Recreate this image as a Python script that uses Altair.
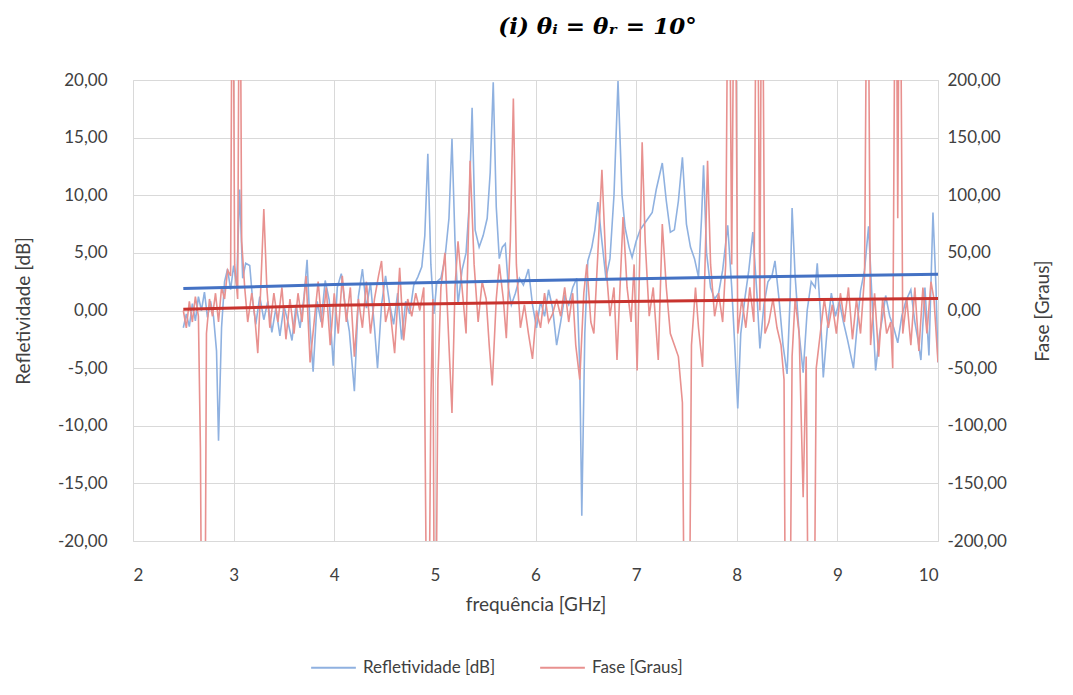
import altair as alt
import pandas as pd

# ---- data ----
refl_f = [2.50, 2.53, 2.56, 2.59, 2.62, 2.65, 2.68, 2.71, 2.74, 2.77, 2.80, 2.83, 2.85, 2.88, 2.91,
          2.94, 2.97, 3.00, 3.03, 3.06, 3.09, 3.12, 3.16, 3.19, 3.22, 3.26, 3.30, 3.34, 3.38, 3.42,
          3.46, 3.50, 3.54, 3.58, 3.62, 3.66, 3.70, 3.73, 3.76, 3.79, 3.83, 3.87, 3.91, 3.95, 3.99,
          4.03, 4.07, 4.11, 4.15, 4.20, 4.24, 4.28, 4.32, 4.36, 4.40, 4.43, 4.47, 4.51, 4.55, 4.59,
          4.63, 4.67, 4.71, 4.75, 4.79, 4.83, 4.87, 4.90, 4.93, 4.96, 4.99, 5.02, 5.06, 5.10, 5.14,
          5.17, 5.20, 5.23, 5.27, 5.31, 5.34, 5.37, 5.40, 5.44, 5.48, 5.52, 5.55, 5.58, 5.61, 5.64,
          5.67, 5.70, 5.73, 5.76, 5.80, 5.84, 5.88, 5.93, 5.97, 6.01, 6.05, 6.09, 6.13, 6.17, 6.21,
          6.25, 6.29, 6.33, 6.37, 6.41, 6.44, 6.46, 6.49, 6.52, 6.56, 6.59, 6.62, 6.66, 6.70, 6.74,
          6.78, 6.82, 6.86, 6.89, 6.93, 6.96, 7.00, 7.04, 7.08, 7.12, 7.16, 7.20, 7.26, 7.30, 7.34,
          7.38, 7.42, 7.46, 7.50, 7.54, 7.58, 7.62, 7.65, 7.67, 7.70, 7.74, 7.78, 7.82, 7.86, 7.91,
          7.95, 7.98, 8.01, 8.04, 8.08, 8.12, 8.16, 8.20, 8.23, 8.27, 8.31, 8.35, 8.38, 8.42, 8.46,
          8.50, 8.53, 8.55, 8.58, 8.62, 8.66, 8.70, 8.74, 8.78, 8.80, 8.83, 8.86, 8.90, 8.94, 8.98,
          9.02, 9.06, 9.10, 9.16, 9.20, 9.23, 9.27, 9.31, 9.35, 9.38, 9.42, 9.45, 9.48, 9.52, 9.56,
          9.60, 9.64, 9.68, 9.73, 9.77, 9.80, 9.83, 9.87, 9.91, 9.95, 9.98, 10.00]
refl_db = [-1.5, -0.3, -1.4, 0.6, -0.9, 1.2, 0.0, 1.6, -0.6, 0.8, -0.5, -3.5, -11.3, -1.5, 2.5,
           3.6, 1.8, 3.9, 2.2, 10.5, 2.8, 4.1, 3.9, 0.8, -1.2, 1.2, -0.8, 0.8, -1.9, 0.2,
           -2.2, 0.4, -1.0, -2.6, 0.5, -1.5, 1.2, 4.4, -1.5, -5.3, 0.8, -1.0, 2.6, 0.9, -4.8,
           2.0, 3.2, 0.3, -1.8, -7.0, 1.2, 3.6, 0.2, 2.4, -1.5, -5.0, 0.5, 3.0, 0.6, -1.2,
           1.5, -2.5, 0.8, -0.3, 2.2, 2.9, 3.8, 6.5, 13.6, 4.0, -0.3, 2.5, 2.8, 4.5, 8.0,
           14.9, 6.0, 0.5, 3.5, 5.0, 9.0, 17.6, 7.0, 5.5, 6.5, 8.0, 12.0, 19.8, 9.0, 4.5,
           5.5, 5.8, 2.0, 0.5, 1.5, 2.8, 2.2, 3.6, 0.5, -1.5, 0.8, -0.5, 1.8, 0.2, -3.0,
           -1.0, 1.2, 0.5, 2.0, 2.8, -5.0, -17.8, -2.0, 4.3, 5.5, 7.0, 9.4, 6.0, 2.8, 4.5,
           10.0, 19.9, 10.0, 7.2, 5.5, 4.6, 6.0, 7.0, 7.5, 8.0, 8.5, 10.5, 12.8, 9.5, 6.8,
           7.0, 9.5, 13.3, 7.5, 5.5, 4.5, 2.9, 8.0, 12.6, 5.0, 2.0, 1.0, 1.5, 3.5, 7.4,
           2.0, -3.0, -8.5, -2.0, 1.0, 3.5, 6.8, 1.5, -3.3, 0.5, 2.5, 3.0, 4.3, 1.0, -3.0,
           -5.5, 1.0, 8.9, 3.0, -2.0, -5.4, 0.0, 2.5, 2.0, 4.1, 0.0, -5.8, -1.5, 1.5, -0.5,
           0.8, -1.0, -2.5, -5.0, -1.0, 1.7, 3.5, 7.3, 0.0, -5.2, -2.0, -0.5, 1.3, -0.5, -1.5,
           -2.8, -0.5, 0.8, 1.8, -1.0, -2.5, -4.3, 2.0, -3.9, 8.5, 2.0, -4.5]

fase_f = [2.50, 2.53, 2.56, 2.59, 2.62, 2.65, 2.67, 2.69, 2.71, 2.73, 2.76, 2.79, 2.82, 2.85, 2.88,
          2.91, 2.94, 2.97, 2.99, 3.01, 3.04, 3.06, 3.08, 3.11, 3.14, 3.18, 3.21, 3.24, 3.27, 3.30,
          3.33, 3.36, 3.40, 3.44, 3.48, 3.52, 3.56, 3.60, 3.64, 3.68, 3.72, 3.76, 3.80, 3.84, 3.88,
          3.92, 3.96, 4.00, 4.04, 4.08, 4.12, 4.16, 4.20, 4.24, 4.28, 4.32, 4.36, 4.40, 4.44, 4.47,
          4.51, 4.55, 4.60, 4.65, 4.69, 4.73, 4.77, 4.81, 4.85, 4.89, 4.93, 4.96, 4.98, 5.00, 5.03,
          5.06, 5.10, 5.14, 5.17, 5.20, 5.23, 5.27, 5.31, 5.35, 5.39, 5.43, 5.47, 5.51, 5.54, 5.57,
          5.61, 5.64, 5.68, 5.71, 5.75, 5.78, 5.81, 5.85, 5.89, 5.93, 5.97, 6.01, 6.05, 6.09, 6.13,
          6.17, 6.21, 6.25, 6.29, 6.33, 6.37, 6.40, 6.44, 6.48, 6.51, 6.55, 6.58, 6.62, 6.66, 6.70,
          6.74, 6.78, 6.81, 6.84, 6.87, 6.91, 6.95, 6.98, 7.01, 7.04, 7.06, 7.09, 7.13, 7.17, 7.22,
          7.26, 7.30, 7.34, 7.38, 7.42, 7.46, 7.49, 7.52, 7.55, 7.59, 7.62, 7.66, 7.71, 7.74, 7.78,
          7.82, 7.86, 7.89, 7.92, 7.95, 7.98, 8.01, 8.05, 8.09, 8.13, 8.17, 8.20, 8.23, 8.25, 8.28,
          8.32, 8.36, 8.40, 8.44, 8.47, 8.49, 8.52, 8.55, 8.58, 8.62, 8.66, 8.69, 8.72, 8.76, 8.79,
          8.83, 8.87, 8.91, 8.95, 8.99, 9.03, 9.07, 9.11, 9.15, 9.19, 9.23, 9.27, 9.30, 9.33, 9.37,
          9.41, 9.45, 9.49, 9.53, 9.55, 9.58, 9.60, 9.62, 9.65, 9.69, 9.73, 9.77, 9.81, 9.85, 9.89,
          9.93, 9.96, 10.00]
fase_deg = [0, -15, 8, -10, 12, -5, -120, -400, -400, -20, 10, -5, 15, -10, 20,
            10, 35, 30, 400, 40, 10, 400, 60, 20, -10, 15, -5, -37, 20, 88,
            20, -15, 15, -10, 20, -25, 10, -20, 15, -10, 30, -45, -10, 25, -15,
            20, -30, 15, -20, 30, -10, 20, -40, 10, -15, 25, -20, 10, 30, 43,
            -10, 5, -37, 37, -26, 10, -5, 15, 0, 20, -400, -80, 10, -400, -60,
            20, 50, -30, -89, 20, 60, 20, -20, 130, 40, -10, 25, 10, -30, -65,
            10, 40, 10, -24, 60, 184, 40, -15, 5, -20, -42, 0, -15, 15, -10,
            -3, 10, -5, 20, -10, 15, -30, -60, 15, 40, -10, -20, 50, 122, 40,
            -5, 20, -43, 20, 81, 20, -10, 40, -52, 60, 146, 60, -5, 20, -43,
            75, 20, -20, -30, -40, -80, -400, -400, -30, 20, -15, -49, 130, 40, -5,
            15, -10, 40, 400, 40, 400, -20, 10, -15, 20, -10, 400, 0, 400, -20,
            -10, 10, -15, -30, -60, -400, -400, -40, 10, -20, -162, -40, -400, -400, -50,
            -20, 10, -15, 5, -20, 15, -10, 20, -25, 10, -20, 30, 400, -30, 15,
            -40, 10, -20, -10, -50, 400, 80, 400, -20, 10, -30, 20, -35, 20, -20,
            25, 10, -45]

trend_f = [2.5, 4.0, 6.0, 8.0, 10.0]
trend_refl = [1.9, 2.25, 2.6, 2.9, 3.15]
trend_fase = [1.0, 4.5, 7.0, 9.0, 10.5]

SERIES = ["Refletividade [dB]", "Fase [Graus]"]
BLUE = "#8FB1E0"
RED = "#E8918F"
BLUE_T = "#4472C4"
RED_T = "#C8332E"
FONT = "Lato"
TXT = "#404040"
GRID = "#D9D9D9"

df_r = pd.DataFrame({"f": refl_f, "v": refl_db, "serie": SERIES[0]})
df_p = pd.DataFrame({"f": fase_f, "v": fase_deg, "serie": SERIES[1]})
df_tr = pd.DataFrame({"f": trend_f, "v": trend_refl})
df_tp = pd.DataFrame({"f": trend_f, "v": trend_fase})

label_expr = "(datum.value < 0 ? '-' : '') + replace(format(abs(datum.value), '.2f'), '.', ',')"

x_enc = alt.X(
    "f:Q",
    scale=alt.Scale(domain=[2, 10], nice=False, zero=False),
    axis=alt.Axis(values=list(range(2, 11)), title="frequência [GHz]", grid=True, gridColor=GRID,
                  domain=False, ticks=False, labelPadding=26, titlePadding=12,
                  labelFontSize=17, titleFontSize=19, labelColor=TXT, titleColor=TXT,
                  labelFont=FONT, titleFont=FONT, titleFontWeight="normal"),
)

color = alt.Color(
    "serie:N",
    scale=alt.Scale(domain=SERIES, range=[BLUE, RED]),
    legend=alt.Legend(orient="none", legendX=177, legendY=564, direction="horizontal", title=None,
                      symbolType="stroke", symbolSize=2000, symbolStrokeWidth=2,
                      labelFontSize=17, labelFont=FONT, labelColor=TXT, columnPadding=40,
                      labelOffset=6),
)

blue = alt.Chart(df_r).mark_line(strokeWidth=1.6, clip=True).encode(
    x=x_enc,
    y=alt.Y("v:Q", scale=alt.Scale(domain=[-20, 20], nice=False),
            axis=alt.Axis(values=list(range(-20, 25, 5)), labelExpr=label_expr, title="Refletividade [dB]",
                          grid=True, gridColor=GRID, domain=False, ticks=False, labelPadding=26,
                          titlePadding=24, labelFontSize=17, titleFontSize=19, labelColor=TXT,
                          titleColor=TXT, labelFont=FONT, titleFont=FONT, titleFontWeight="normal")),
    color=color,
)

red = alt.Chart(df_p).mark_line(strokeWidth=1.6, clip=True).encode(
    x=x_enc,
    y=alt.Y("v:Q", scale=alt.Scale(domain=[-200, 200], nice=False),
            axis=alt.Axis(orient="right", values=list(range(-200, 250, 50)), labelExpr=label_expr,
                          title="Fase [Graus]", grid=False, domain=False, ticks=False, labelPadding=9,
                          titlePadding=46, titleAngle=270, labelFontSize=17, titleFontSize=19,
                          labelColor=TXT, titleColor=TXT, labelFont=FONT, titleFont=FONT,
                          titleFontWeight="normal")),
    color=color,
)

blue_t = alt.Chart(df_tr).mark_line(strokeWidth=3, color=BLUE_T, clip=True).encode(
    x=x_enc,
    y=alt.Y("v:Q", scale=alt.Scale(domain=[-20, 20], nice=False), axis=None),
)

red_t = alt.Chart(df_tp).mark_line(strokeWidth=3, color=RED_T, clip=True).encode(
    x=x_enc,
    y=alt.Y("v:Q", scale=alt.Scale(domain=[-200, 200], nice=False), axis=None),
)

chart = alt.layer(blue, red, blue_t, red_t).resolve_scale(y="independent").properties(
    width=805,
    height=461,
    padding={"left": 133, "top": 80, "right": 135, "bottom": 154},
    autosize=alt.AutoSizeParams(type="none"),
    title=alt.Title(text="(i)  θᵢ = θᵣ = 10°", font="DejaVu Serif", fontSize=23, fontWeight="bold",
                    fontStyle="italic", color="#000000", anchor="middle", dx=62, offset=32),
).configure_view(stroke=None).configure(background="white")

chart.save("out.html", embed_options={"renderer": "svg", "actions": False})
